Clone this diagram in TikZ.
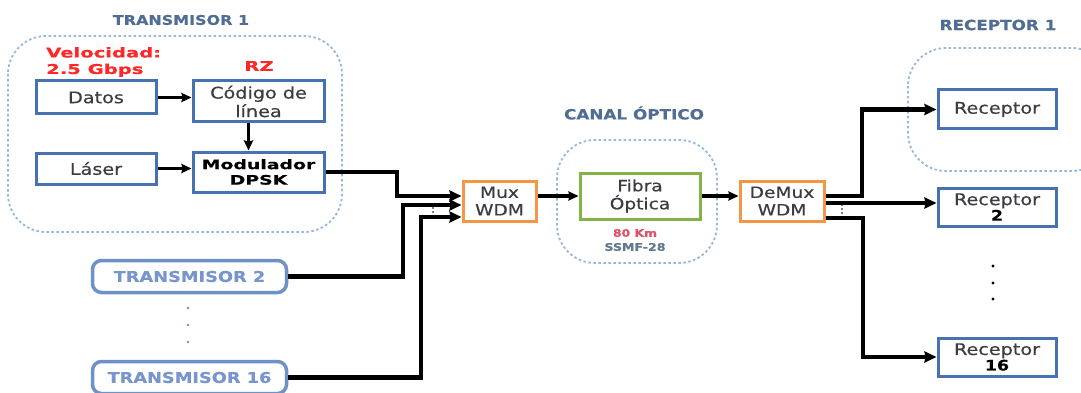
\documentclass[tikz,border=0pt]{standalone}
\usepackage{fontspec}
\setmainfont{DejaVu Sans}[FakeStretch=1.2,FakeBold=0.5]
\newfontfamily\widebf{DejaVu Sans Bold}[FakeStretch=1.45,FakeBold=0.4]
\usetikzlibrary{arrows.meta}
\definecolor{boxblue}{RGB}{70,114,178}
\definecolor{txtgray}{RGB}{60,60,66}
\definecolor{titleblue}{RGB}{80,110,148}
\definecolor{dashblue}{RGB}{150,182,220}
\definecolor{txblue}{RGB}{110,145,200}
\definecolor{txtext}{RGB}{120,150,205}
\definecolor{orangeb}{RGB}{245,150,70}
\definecolor{greenb}{RGB}{130,180,70}
\definecolor{redt}{RGB}{255,40,40}
\definecolor{pinkt}{RGB}{225,80,100}
\definecolor{grayt}{RGB}{100,120,145}
\tikzset{
  bbox/.style={draw=boxblue, line width=3pt, fill=white, inner sep=0pt, align=center, text=txtgray, font=\fontsize{16}{18.5}\selectfont},
  obox/.style={draw=orangeb, line width=3pt, fill=white, inner sep=0pt, align=center, text=txtgray, font=\fontsize{15.5}{17.5}\selectfont},
  gbox/.style={draw=greenb, line width=3pt, fill=white, inner sep=0pt, align=center, text=txtgray, font=\fontsize{15.5}{18}\selectfont},
  txbox/.style={draw=txblue, line width=3.5pt, rounded corners=9pt, fill=white, inner sep=0pt, text=txtext, font=\bfseries\fontsize{14.8}{16}\selectfont},
  container/.style={draw=dashblue, line width=1.8pt, dash pattern=on 2.5pt off 2.5pt, rounded corners=38pt},
  title/.style={text=titleblue, font=\bfseries\fontsize{14}{16}\selectfont},
  conn/.style={draw=black, line width=4.5pt, -{Stealth[length=12pt,width=11pt,inset=1pt]}},
  inconn/.style={draw=black, line width=3pt, -{Stealth[length=10pt,width=9pt,inset=1pt]}},
}
\begin{document}
\begin{tikzpicture}[x=1pt,y=-1pt]
\useasboundingbox[fill=white] (0,0) rectangle (1081,393);

% containers
\draw[container] (8,36) rectangle (342,232);
\draw[container] (557,140) rectangle (717,263);
\draw[container] (908,48) rectangle (1110,171);

% titles
\node[title, font=\bfseries\fontsize{13.3}{14}\selectfont] (t1) at (181,20) {TRANSMISOR 1};
\node[title] (t2) at (634,113) {CANAL ÓPTICO};
\node[title] (t3) at (998,25) {RECEPTOR 1};

% red labels
\node[text=redt, font=\widebf\fontsize{13.5}{16.5}\selectfont, align=left, anchor=north west, inner sep=0pt] (vel) at (46,47) {Velocidad:\\2.5 Gbps};
\node[text=redt, font=\widebf\fontsize{13.5}{16}\selectfont, inner sep=0pt] (rz) at (259,66) {RZ};

% transmitter 1 blocks
\node[bbox, minimum width=120pt, minimum height=33pt] (Datos) at (96,97.5) {Datos};
\node[bbox, minimum width=131pt, minimum height=41pt] (Cod) at (258.5,101.5) {Código de\\línea};
\node[bbox, minimum width=120pt, minimum height=31pt] (Laser) at (96,168.5) {Láser};
\node[bbox, minimum width=131pt, minimum height=40pt, text=black, font=\widebf\fontsize{13}{15.5}\selectfont] (Mod) at (258.5,172) {Modulador\\DPSK};

% other transmitters
\node[txbox, minimum width=194pt, minimum height=32pt] (TX2) at (189.5,276.5) {TRANSMISOR 2};
\node[txbox, minimum width=194pt, minimum height=32pt] (TX16) at (189.5,377.5) {TRANSMISOR 16};
\foreach \yy in {308,325,342} \fill[txblue] (188,\yy) circle (1.4pt);

% mux / fiber / demux
\node[obox, minimum width=73pt, minimum height=40pt] (Mux) at (499.5,201) {Mux\\WDM};
\node[gbox, minimum width=120pt, minimum height=46pt] (Fib) at (640,196) {Fibra\\Óptica};
\node[text=pinkt, font=\bfseries\fontsize{10.3}{12}\selectfont, inner sep=0pt] (km) at (635,233) {80 Km};
\node[text=grayt, font=\bfseries\fontsize{10.5}{12}\selectfont, inner sep=0pt] (ssmf) at (635,247) {SSMF-28};
\node[obox, minimum width=84pt, minimum height=40pt] (DeMux) at (782,201) {DeMux\\WDM};

% receptors
\node[bbox, minimum width=118pt, minimum height=39pt] (Rec1) at (997,109.5) {Receptor};
\node[bbox, minimum width=118pt, minimum height=38pt] (Rec2) at (997,207) {Receptor\\[-3pt]{\bfseries\color{black}\fontsize{14.5}{14}\selectfont 2}};
\node[bbox, minimum width=118pt, minimum height=38pt] (Rec16) at (997,357) {Receptor\\[-3pt]{\bfseries\color{black}\fontsize{14.5}{14}\selectfont 16}};
\foreach \yy in {266,283,299} \fill[black] (993,\yy) circle (1.6pt);

% inner arrows
\draw[inconn] (Datos.east) -- (Datos.east -| Cod.west);
\draw[inconn] ([xshift=-10pt]Cod.south) -- ([xshift=-10pt]Cod.south |- Mod.north);
\draw[inconn] (Laser.east) -- (Laser.east -| Mod.west);

% into mux
\coordinate (b1) at (397,196);
\coordinate (b2) at (403,205);
\coordinate (b3) at (421,217);
\draw[conn] (Mod.east) -| (b1) -- (b1 -| Mux.west);
\draw[conn] (TX2.east) -| (b2) -- (b2 -| Mux.west);
\draw[conn] (TX16.east) -| (b3) -- (b3 -| Mux.west);
\foreach \yy in {208,212} \fill[black] (433,\yy) circle (0.8pt);

% through channel
\draw[inconn, line width=3.5pt] (Mux.east |- Fib.west) -- (Fib.west);
\draw[inconn, line width=3.5pt] (Fib.east) -- (Fib.east -| DeMux.west);

% out of demux
\coordinate (c1) at (862,196);
\coordinate (c2) at (900,203);
\coordinate (c3) at (863,218);
\draw[conn] (c1 -| DeMux.east) -- (c1) |- (Rec1.west);
\draw[conn] (c2 -| DeMux.east) -- (c2 -| Rec2.west);
\draw[conn] (c3 -| DeMux.east) -- (c3) |- (Rec16.west);
\foreach \yy in {205,209,213} \fill[black] (842,\yy) circle (0.8pt);
\end{tikzpicture}
\end{document}
